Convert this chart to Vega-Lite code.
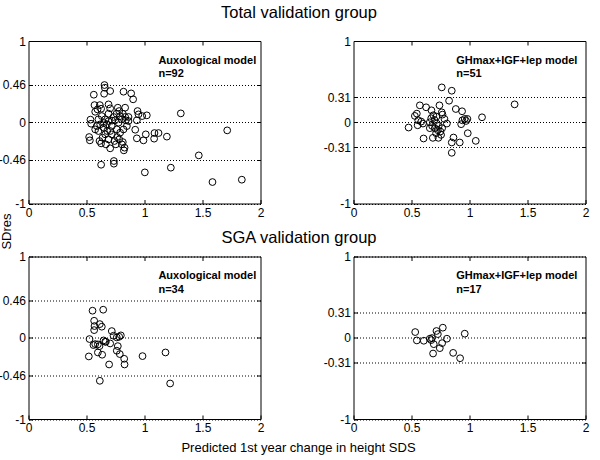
{
  "$schema": "https://vega.github.io/schema/vega-lite/v6.json",
  "background": "white",
  "padding": {"left": -2.5, "top": 4, "right": 0, "bottom": 0},
  "autosize": {"type": "pad"},
  "bounds": "flush",
  "columns": 2,
  "spacing": {"row": 52.5, "column": 93},
  "config": {
    "font": "Liberation Sans",
    "view": {"stroke": "black", "strokeWidth": 1},
    "axis": {"domain": false, "tickColor": "black", "tickSize": -4, "labelColor": "black", "labelFontSize": 12, "labelFont": "Liberation Sans", "gridColor": "black", "gridDash": [1, 2], "gridOpacity": 1, "gridWidth": 1, "titleColor": "black", "labelFlush": false, "labelOverlap": false},
    "axisX": {"labelPadding": 7.5, "grid": false},
    "axisY": {"labelPadding": 7},
    "title": {"font": "Liberation Sans", "fontSize": 16.5, "fontWeight": "normal", "color": "black"}
  },
  "datasets": {
    "totalAux": [
      {"x":1.313,"y":0.109},{"x":1.713,"y":-0.100},{"x":1.468,"y":-0.408},{"x":1.227,"y":-0.559},{"x":1.003,"y":-0.617},{"x":1.586,"y":-0.736},{"x":1.839,"y":-0.707},{"x":0.626,"y":-0.523},{"x":0.736,"y":-0.477},{"x":0.736,"y":-0.510},
      {"x":1.193,"y":-0.177},{"x":1.083,"y":-0.202},{"x":1.086,"y":-0.133},{"x":1.121,"y":-0.133},{"x":1.011,"y":-0.149},{"x":0.991,"y":-0.223},{"x":0.934,"y":-0.198},{"x":0.920,"y":-0.092},{"x":1.020,"y":0.085},{"x":0.980,"y":0.076},
      {"x":0.940,"y":0.138},{"x":0.934,"y":0.024},{"x":0.948,"y":0.097},{"x":0.902,"y":0.282},{"x":0.885,"y":0.355},{"x":0.819,"y":0.376},{"x":0.704,"y":0.384},{"x":0.655,"y":0.458},{"x":0.658,"y":0.425},{"x":0.652,"y":0.351},
      {"x":0.563,"y":0.339},{"x":0.833,"y":0.179},{"x":0.569,"y":0.211},{"x":0.575,"y":0.129},{"x":0.615,"y":0.211},{"x":0.626,"y":0.166},{"x":0.690,"y":0.220},{"x":0.704,"y":0.171},{"x":0.770,"y":0.179},{"x":0.782,"y":0.138},
      {"x":0.759,"y":0.105},{"x":0.813,"y":0.105},{"x":0.534,"y":0.032},{"x":0.540,"y":-0.018},{"x":0.523,"y":-0.182},{"x":0.529,"y":-0.223},{"x":0.612,"y":-0.231},{"x":0.626,"y":-0.260},{"x":0.667,"y":-0.272},{"x":0.704,"y":-0.321},
      {"x":0.741,"y":-0.231},{"x":0.764,"y":-0.182},{"x":0.782,"y":-0.211},{"x":0.805,"y":-0.272},{"x":0.828,"y":-0.313},{"x":0.822,"y":-0.346},{"x":0.813,"y":-0.244},{"x":0.790,"y":-0.128},{"x":0.718,"y":-0.149},{"x":0.661,"y":-0.149},
      {"x":0.603,"y":-0.108},{"x":0.589,"y":-0.047},{"x":0.618,"y":-0.026},{"x":0.647,"y":-0.067},{"x":0.675,"y":-0.026},{"x":0.690,"y":0.015},{"x":0.718,"y":-0.047},{"x":0.747,"y":0.024},{"x":0.776,"y":-0.005},{"x":0.805,"y":0.036},
      {"x":0.833,"y":0.065},{"x":0.862,"y":0.015},{"x":0.848,"y":-0.047},{"x":0.819,"y":-0.088},{"x":0.761,"y":-0.088},{"x":0.704,"y":-0.108},{"x":0.661,"y":0.036},{"x":0.632,"y":0.076},{"x":0.603,"y":0.036},{"x":0.575,"y":-0.088},
      {"x":0.690,"y":0.105},{"x":0.733,"y":0.065},{"x":0.790,"y":0.076},{"x":0.638,"y":-0.190},{"x":0.690,"y":-0.211},{"x":0.753,"y":-0.272},{"x":0.839,"y":0.024},{"x":0.862,"y":0.065},{"x":0.595,"y":0.158},{"x":0.678,"y":-0.108},
      {"x":0.720,"y":0.020},{"x":0.650,"y":-0.010}
    ],
    "totalGH": [
      {"x":0.761,"y":0.429},{"x":0.847,"y":0.388},{"x":1.389,"y":0.220},{"x":0.824,"y":0.265},{"x":0.572,"y":0.208},{"x":0.626,"y":0.184},{"x":0.741,"y":0.208},{"x":0.672,"y":0.147},{"x":0.882,"y":0.163},{"x":0.936,"y":0.135},
      {"x":0.546,"y":0.106},{"x":0.529,"y":0.078},{"x":0.761,"y":0.122},{"x":0.767,"y":0.094},{"x":0.715,"y":0.069},{"x":0.688,"y":0.086},{"x":1.108,"y":0.061},{"x":0.982,"y":0.041},{"x":0.959,"y":0.041},{"x":0.939,"y":0.024},
      {"x":0.928,"y":-0.024},{"x":0.805,"y":-0.016},{"x":0.558,"y":0.024},{"x":0.599,"y":-0.016},{"x":0.553,"y":-0.037},{"x":0.475,"y":-0.065},{"x":0.658,"y":0.000},{"x":0.678,"y":-0.045},{"x":0.701,"y":-0.073},{"x":0.658,"y":-0.073},
      {"x":0.718,"y":-0.016},{"x":0.727,"y":-0.098},{"x":0.764,"y":-0.073},{"x":0.712,"y":-0.135},{"x":0.604,"y":-0.200},{"x":0.684,"y":-0.192},{"x":0.732,"y":-0.192},{"x":0.985,"y":-0.135},{"x":0.862,"y":-0.188},{"x":1.054,"y":-0.229},
      {"x":0.847,"y":-0.249},{"x":0.916,"y":-0.249},{"x":0.847,"y":-0.376},{"x":0.749,"y":-0.114},{"x":0.698,"y":0.029},{"x":0.735,"y":-0.045},{"x":0.784,"y":0.041},{"x":0.670,"y":0.049},{"x":0.755,"y":-0.155},{"x":0.584,"y":0.008},
      {"x":0.971,"y":0.016}
    ],
    "sgaAux": [
      {"x":0.552,"y":0.333},{"x":0.644,"y":0.345},{"x":0.566,"y":0.209},{"x":0.615,"y":0.168},{"x":0.569,"y":0.144},{"x":0.632,"y":0.136},{"x":0.566,"y":0.094},{"x":0.718,"y":0.082},{"x":0.733,"y":0.025},{"x":0.782,"y":0.012},
      {"x":0.796,"y":0.029},{"x":0.761,"y":0.004},{"x":0.526,"y":-0.016},{"x":0.647,"y":-0.033},{"x":0.667,"y":-0.049},{"x":0.704,"y":-0.070},{"x":0.560,"y":-0.090},{"x":0.598,"y":-0.082},{"x":0.612,"y":-0.103},{"x":0.770,"y":-0.103},
      {"x":0.761,"y":-0.160},{"x":0.787,"y":-0.201},{"x":0.598,"y":-0.181},{"x":0.635,"y":-0.209},{"x":0.520,"y":-0.230},{"x":0.983,"y":-0.226},{"x":1.181,"y":-0.181},{"x":0.825,"y":-0.259},{"x":0.695,"y":-0.329},{"x":0.828,"y":-0.329},
      {"x":0.615,"y":-0.530},{"x":1.221,"y":-0.563},{"x":0.661,"y":-0.049},{"x":0.575,"y":-0.078}
    ],
    "sgaGH": [
      {"x":0.532,"y":0.070},{"x":0.546,"y":-0.033},{"x":0.606,"y":-0.037},{"x":0.658,"y":-0.012},{"x":0.670,"y":-0.029},{"x":0.676,"y":-0.004},{"x":0.692,"y":-0.079},{"x":0.686,"y":-0.194},{"x":0.715,"y":0.083},{"x":0.727,"y":0.045},
      {"x":0.770,"y":0.124},{"x":0.805,"y":-0.012},{"x":0.764,"y":-0.066},{"x":0.744,"y":-0.128},{"x":0.859,"y":-0.186},{"x":0.919,"y":-0.252},{"x":0.959,"y":0.050}
    ]
  },
  "concat": [
    {
      "title": {"text": "Total validation group", "anchor": "start", "align": "center", "frame": "group", "dx": 270.5, "baseline": "alphabetic", "offset": 1},
      "width": 232, "height": 162.5,
      "layer": [
        {
          "data": {"name": "totalAux"},
          "mark": {"type": "point", "shape": "circle", "filled": false, "stroke": "black", "strokeWidth": 1, "size": 46, "opacity": 1},
          "encoding": {
            "x": {"field": "x", "type": "quantitative", "scale": {"domain": [0, 2], "nice": false, "zero": false}, "axis": {"orient": "bottom", "values": [0, 0.5, 1, 1.5, 2], "labelExpr": "'' + datum.value", "title": null}},
            "y": {"field": "y", "type": "quantitative", "scale": {"domain": [-1, 1], "nice": false, "zero": false}, "axis": {"orient": "left", "values": [-1, -0.46, 0, 0.46, 1], "labelExpr": "'' + datum.value", "grid": true, "title": "SDres", "titleFontSize": 13, "titleFontWeight": "normal", "titleX": -22.5, "titleY": 190, "titleBaseline": "middle", "titleAlign": "center", "titleAngle": 270}}
          }
        },
        {
          "data": {"values": [{}]},
          "mark": {"type": "text", "text": ["Auxological model", "n=92"], "align": "left", "baseline": "top", "fontWeight": "bold", "fontSize": 11, "lineHeight": 13.5, "color": "black"},
          "encoding": {
            "x": {"datum": 1.12, "type": "quantitative", "axis": {"orient": "top", "labels": false, "values": [0.5, 1, 1.5], "grid": false, "title": null}},
            "y": {"datum": 0.83, "type": "quantitative", "axis": {"orient": "right", "labels": false, "values": [-0.46, 0, 0.46], "grid": false, "title": null}}
          }
        }
      ]
    },
    {
      "width": 232, "height": 162.5,
      "layer": [
        {
          "data": {"name": "totalGH"},
          "mark": {"type": "point", "shape": "circle", "filled": false, "stroke": "black", "strokeWidth": 1, "size": 46, "opacity": 1},
          "encoding": {
            "x": {"field": "x", "type": "quantitative", "scale": {"domain": [0, 2], "nice": false, "zero": false}, "axis": {"orient": "bottom", "values": [0, 0.5, 1, 1.5, 2], "labelExpr": "'' + datum.value", "title": null}},
            "y": {"field": "y", "type": "quantitative", "scale": {"domain": [-1, 1], "nice": false, "zero": false}, "axis": {"orient": "left", "values": [-1, -0.31, 0, 0.31, 1], "labelExpr": "'' + datum.value", "grid": true, "title": null}}
          }
        },
        {
          "data": {"values": [{}]},
          "mark": {"type": "text", "text": ["GHmax+IGF+lep model", "n=51"], "align": "left", "baseline": "top", "fontWeight": "bold", "fontSize": 11, "lineHeight": 13.5, "color": "black"},
          "encoding": {
            "x": {"datum": 0.886, "type": "quantitative", "axis": {"orient": "top", "labels": false, "values": [0.5, 1, 1.5], "grid": false, "title": null}},
            "y": {"datum": 0.83, "type": "quantitative", "axis": {"orient": "right", "labels": false, "values": [-0.31, 0, 0.31], "grid": false, "title": null}}
          }
        }
      ]
    },
    {
      "title": {"text": "SGA validation group", "anchor": "start", "align": "center", "frame": "group", "dx": 270.5, "baseline": "alphabetic", "offset": -9},
      "width": 232, "height": 162.5,
      "layer": [
        {
          "data": {"name": "sgaAux"},
          "mark": {"type": "point", "shape": "circle", "filled": false, "stroke": "black", "strokeWidth": 1, "size": 46, "opacity": 1},
          "encoding": {
            "x": {"field": "x", "type": "quantitative", "scale": {"domain": [0, 2], "nice": false, "zero": false}, "axis": {"orient": "bottom", "values": [0, 0.5, 1, 1.5, 2], "labelExpr": "'' + datum.value", "title": "Predicted 1st year change in height SDS", "titleFontSize": 13, "titleFontWeight": "normal", "titleX": 269.5, "titleY": 28, "titleBaseline": "middle", "titleAlign": "center"}},
            "y": {"field": "y", "type": "quantitative", "scale": {"domain": [-1, 1], "nice": false, "zero": false}, "axis": {"orient": "left", "values": [-1, -0.46, 0, 0.46, 1], "labelExpr": "'' + datum.value", "grid": true, "title": null}}
          }
        },
        {
          "data": {"values": [{}]},
          "mark": {"type": "text", "text": ["Auxological model", "n=34"], "align": "left", "baseline": "top", "fontWeight": "bold", "fontSize": 11, "lineHeight": 13.5, "color": "black"},
          "encoding": {
            "x": {"datum": 1.12, "type": "quantitative", "axis": {"orient": "top", "labels": false, "values": [0.5, 1, 1.5], "grid": false, "title": null}},
            "y": {"datum": 0.83, "type": "quantitative", "axis": {"orient": "right", "labels": false, "values": [-0.46, 0, 0.46], "grid": false, "title": null}}
          }
        }
      ]
    },
    {
      "width": 232, "height": 162.5,
      "layer": [
        {
          "data": {"name": "sgaGH"},
          "mark": {"type": "point", "shape": "circle", "filled": false, "stroke": "black", "strokeWidth": 1, "size": 46, "opacity": 1},
          "encoding": {
            "x": {"field": "x", "type": "quantitative", "scale": {"domain": [0, 2], "nice": false, "zero": false}, "axis": {"orient": "bottom", "values": [0, 0.5, 1, 1.5, 2], "labelExpr": "'' + datum.value", "title": null}},
            "y": {"field": "y", "type": "quantitative", "scale": {"domain": [-1, 1], "nice": false, "zero": false}, "axis": {"orient": "left", "values": [-1, -0.31, 0, 0.31, 1], "labelExpr": "'' + datum.value", "grid": true, "title": null}}
          }
        },
        {
          "data": {"values": [{}]},
          "mark": {"type": "text", "text": ["GHmax+IGF+lep model", "n=17"], "align": "left", "baseline": "top", "fontWeight": "bold", "fontSize": 11, "lineHeight": 13.5, "color": "black"},
          "encoding": {
            "x": {"datum": 0.886, "type": "quantitative", "axis": {"orient": "top", "labels": false, "values": [0.5, 1, 1.5], "grid": false, "title": null}},
            "y": {"datum": 0.83, "type": "quantitative", "axis": {"orient": "right", "labels": false, "values": [-0.31, 0, 0.31], "grid": false, "title": null}}
          }
        }
      ]
    }
  ]
}
